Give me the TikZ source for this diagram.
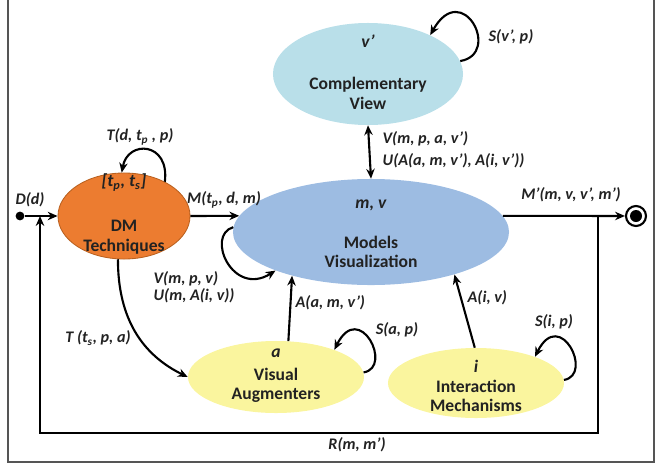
\documentclass[tikz,border=0pt]{standalone}
\usepackage{fontspec}
\setmainfont{Carlito}
\usetikzlibrary{shapes.geometric, arrows.meta, positioning, calc}
\definecolor{stateOrange}{HTML}{EC7C30}
\definecolor{stateOrangeDark}{HTML}{B9601F}
\definecolor{stateBlue}{HTML}{9DBCE2}
\definecolor{stateCyan}{HTML}{B9DFE9}
\definecolor{stateYellow}{HTML}{FAF59E}
\definecolor{inkDark}{HTML}{222222}
\definecolor{frameGrey}{HTML}{555555}
\tikzset{
  state/.style={ellipse, fill=#1, draw=none, inner sep=0pt},
  stxt/.style={align=center, font=\fontsize{12.5}{14}\selectfont\bfseries, text=inkDark},
  lab/.style={font=\fontsize{11.5}{13.5}\selectfont\bfseries\itshape, text=inkDark, inner sep=1pt},
  flow/.style={-{Stealth[length=7pt, width=6pt]}, line width=1.5pt},
  dflow/.style={{Stealth[length=7pt, width=6pt]}-{Stealth[length=7pt, width=6pt]}, line width=1.5pt},
  startdot/.style={circle, fill=black, inner sep=0pt, minimum size=0.22cm},
  endst/.style={circle, draw=black, line width=1.5pt, fill=white, inner sep=0pt, minimum size=0.5cm},
}

\begin{document}
\begin{tikzpicture}[x=0.025cm, y=-0.025cm]
\useasboundingbox (0,0) rectangle (658,468);
\draw[color=frameGrey, line width=0.9pt] (8,-5) -- (8,462) -- (654,462) -- (654,-5);

% states
\node[state=stateCyan, minimum width=4.75cm, minimum height=2.55cm] (cv) at (368,74) {};
\node[state=stateBlue, minimum width=6.9cm, minimum height=2.65cm] (mv) at (371,232) {};
\node[state=stateOrange, draw=stateOrangeDark, line width=0.6pt, minimum width=3.3cm, minimum height=2.15cm] (dm) at (124,216) {};
\node[state=stateYellow, minimum width=4.4cm, minimum height=1.8cm] (va) at (276,377) {};
\node[state=stateYellow, minimum width=4.4cm, minimum height=1.75cm] (im) at (476,383) {};

\node[stxt] (cvTxt) at (368,72) {\textit{v’}\\[16pt]Complementary\\View};
\node[stxt] (mvTxt) at (371,234) {\textit{m, v}\\[14pt]Models\\Visualization};
\node[stxt] (dmTxt) at (124,214) {\textit{[t\textsubscript{p}, t\textsubscript{s}]}\\[18pt]DM\\Techniques};
\node[stxt] (vaTxt) at (276,376) {\textit{a}\\[2pt]Visual\\Augmenters};
\node[stxt] (imTxt) at (476,386) {\textit{i}\\Interaction\\Mechanisms};

\node[startdot] (din) at (20,216) {};
\node[endst] (out) at (636,216) {};
\fill (out.center) circle[radius=0.15cm];
\coordinate (rR) at (598,433);
\coordinate (rL) at (40,433);

% connectors
\draw[flow] (din) -- (dm.west);
\draw[flow] (dm.east) -- (mv.173);
\draw[flow] (mv.7) -- (out);
\draw[dflow] (cv.south) -- (mv.north);
\draw[flow] (va.71) -- (mv.209);
\draw[flow] (im.92) -- (mv.-27);
\draw[flow] (dm.262) .. controls +(0,60) and +(-45,-22) .. (va.west);
\draw[flow, line width=2pt] (rR |- out) -- (rR) -- (rL) -- (rL |- din);

% self loops
\draw[flow] (cv.8) .. controls +(42,-7) and +(32,-57) .. (cv.32);
\draw[flow] (dm.40) .. controls +(5,-40) and +(6,-33) .. (dm.93);
\draw[flow] (mv.178) .. controls +(-28,8) and +(-43,27) .. (mv.202);
\draw[flow] (va.3) .. controls +(30,-5) and +(25,-50) .. (va.25);
\draw[flow] (im.2) .. controls +(30,-5) and +(25,-50) .. (im.24);

% labels
\node[lab] (lD) at (30,200) {D(d)};
\node[lab] (lTd) at (140,137) {T(d, t\textsubscript{p} , p)};
\node[lab] (lM) at (224,200) {M(t\textsubscript{p}, d, m)};
\node[lab, anchor=west] (lVm) at (152,279) {V(m, p, v)};
\node[lab, anchor=west] (lUm) at (152,296) {U(m, A(i, v))};
\node[lab] (lTs) at (98,338) {T (t\textsubscript{s}, p, a)};
\node[lab, anchor=west] (lAa) at (294,303) {A(a, m, v’)};
\node[lab] (lSa) at (397,330) {S(a, p)};
\node[lab, anchor=west] (lAi) at (466,298) {A(i, v)};
\node[lab] (lSi) at (554,322) {S(i, p)};
\node[lab] (lMo) at (571,195) {M’(m, v, v’, m’)};
\node[lab] (lR) at (357,445) {R(m, m’)};
\node[lab, anchor=west] (lVc) at (381,139) {V(m, p, a, v’)};
\node[lab, anchor=west] (lUc) at (381,161) {U(A(a, m, v’), A(i, v’))};
\node[lab] (lSv) at (511,37) {S(v’, p)};
\end{tikzpicture}
\end{document}
